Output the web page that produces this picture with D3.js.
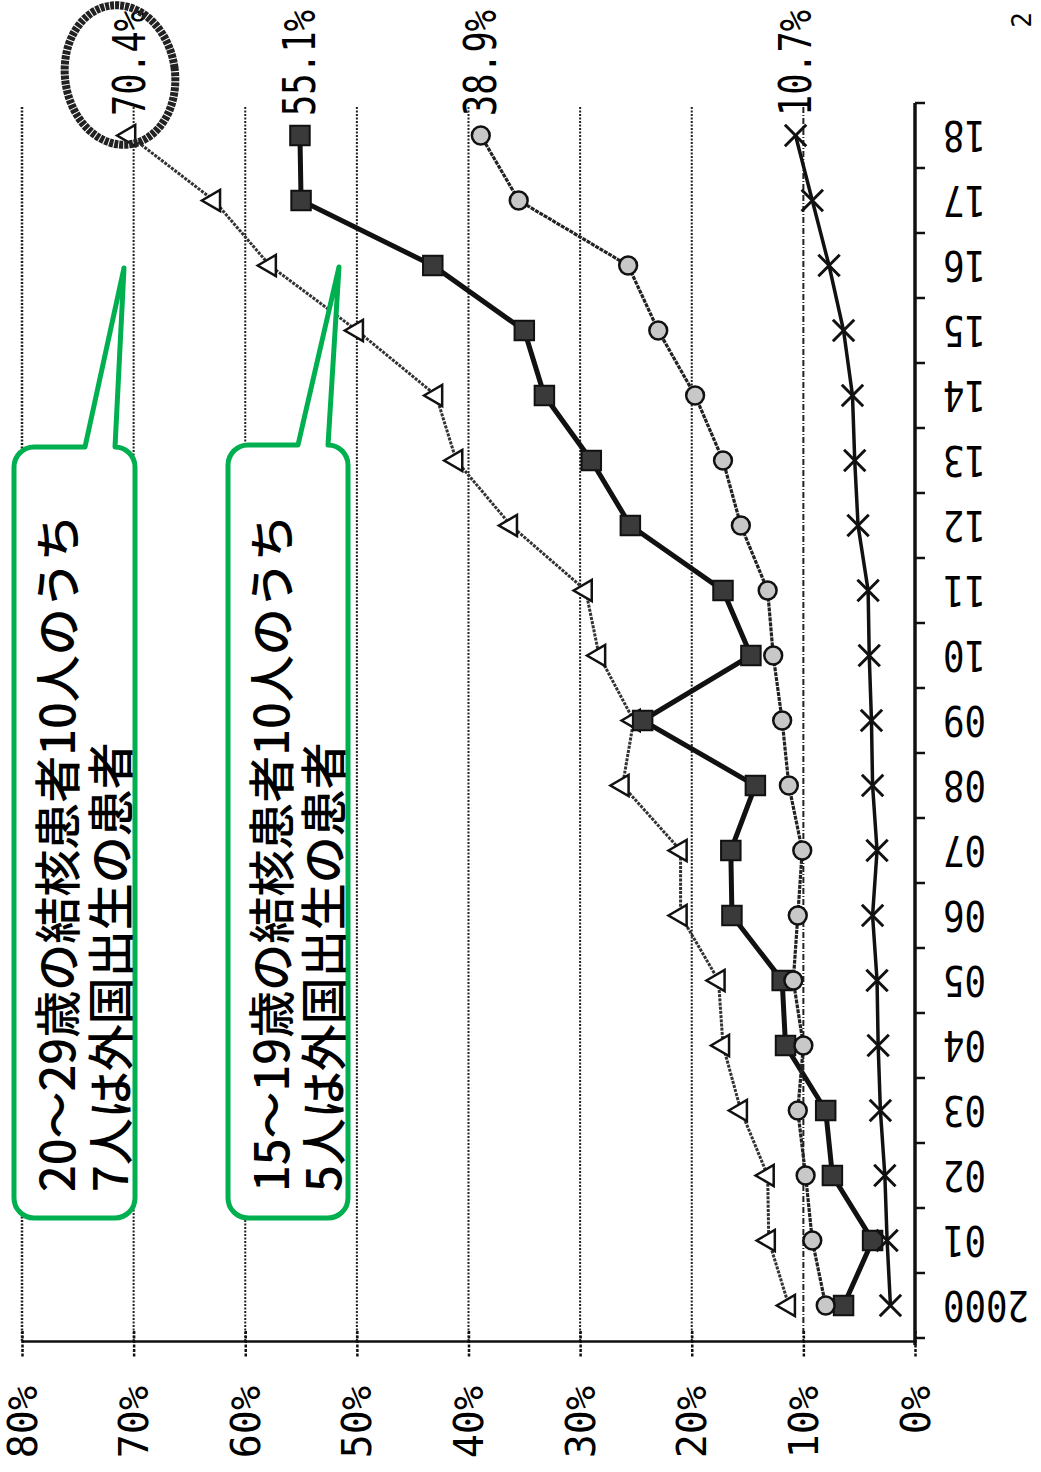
<!DOCTYPE html>
<html>
<head>
<meta charset="utf-8">
<script src="https://cdn.jsdelivr.net/npm/d3@7"></script>
<style>
  body { margin: 0; background: #fff; }
  svg { display: block; }
</style>
</head>
<body>
<div id="container"></div>
<script>
const W = 1041
const H = 1472

// data (share of foreign-born among TB patients, %)
const years = ["2000", "01", "02", "03", "04", "05", "06", "07", "08", "09",
    "10", "11", "12", "13", "14", "15", "16", "17", "18"]
const age20s = [11.3, 13.1, 13.2, 15.6, 17.2, 17.6, 21.0, 21.0, 26.2, 25.2,
    28.3, 29.5, 36.2, 41.1, 42.9, 50.0, 57.8, 62.8, 70.4]
const age15to19 = [6.4, 3.8, 7.4, 8.0, 11.6, 11.9, 16.4, 16.5, 14.3, 24.4,
    14.7, 17.2, 25.5, 29.0, 33.2, 35.0, 43.2, 55.0, 55.1]
const circleSeries = [8.0, 9.2, 9.8, 10.5, 10.0, 10.9, 10.5, 10.1, 11.3, 11.9,
    12.7, 13.2, 15.6, 17.2, 19.7, 23.0, 25.7, 35.5, 38.9]
const allAges = [2.2, 2.5, 2.7, 3.1, 3.3, 3.4, 3.8, 3.4, 3.8, 3.9,
    4.1, 4.2, 5.1, 5.4, 5.6, 6.4, 7.7, 9.2, 10.7]
const pctTicks = [0, 10, 20, 30, 40, 50, 60, 70, 80]
const callout1 = ["20～29歳の結核患者10人のうち", "7人は外国出生の患者"]
const callout2 = ["15～19歳の結核患者10人のうち", "5人は外国出生の患者"]

const svg = d3.select('#container').append('svg')
    .attr('width', W).attr('height', H)

// chart is printed rotated: percent runs right->left, years bottom->top
const x = d3.scaleLinear().domain([0, 80]).range([915, 22])
const y = d3.scaleBand().domain(years).range([1338, 103])
const yc = d => y(d) + y.bandwidth() / 2

const axisY = 1341
const mono = "DejaVu Sans Mono"

// gridlines
svg.append("g").selectAll("line")
    .data(pctTicks.filter(d => d > 0))
    .join("line")
    .attr("x1", d => x(d)).attr("x2", d => x(d))
    .attr("y1", 107).attr("y2", axisY)
    .attr("stroke", "#222")
    .attr("stroke-width", d => d == 80 ? 2.5 : 2)
    .attr("stroke-dasharray", d => d == 10 ? "6,2,1,2" : "2,1.5")

// percent axis
const xAxis = svg.append("g")
    .attr("transform", `translate(0,${axisY})`)
    .call(d3.axisBottom(x).tickValues(pctTicks).tickFormat(d => d + "%").tickSizeOuter(0))
xAxis.select(".domain").attr("stroke", "#111").attr("stroke-width", 2.5)
xAxis.selectAll(".tick line")
    .attr("y1", -10).attr("y2", 16)
    .attr("stroke", "#111").attr("stroke-width", 2.5)
    .attr("stroke-dasharray", "3,1.5")
xAxis.selectAll(".tick text")
    .attr("y", 0).attr("dy", null)
    .attr("transform", "translate(0,45) rotate(-90)")
    .attr("text-anchor", "end")
    .attr("dominant-baseline", "central")
    .attr("font-family", mono)
    .attr("font-size", 40)
    .attr("fill", "#000")

// year axis (right side)
const yAxis = svg.append("g")
    .attr("transform", "translate(915,0)")
    .call(d3.axisRight(y).tickSize(0).tickSizeOuter(0))
yAxis.select(".domain").remove()
yAxis.append("line")
    .attr("x1", 0).attr("x2", 0)
    .attr("y1", y.range()[1]).attr("y2", y.range()[0] + 7)
    .attr("stroke", "#111").attr("stroke-width", 3.5)
yAxis.selectAll(".bound")
    .data(years.map(d => y(d)).concat([y.range()[0]]))
    .join("line")
    .attr("class", "bound")
    .attr("x1", 0).attr("x2", 10)
    .attr("y1", d => d).attr("y2", d => d)
    .attr("stroke", "#111").attr("stroke-width", 2.5)
yAxis.selectAll(".tick text")
    .attr("x", 0).attr("dy", null)
    .attr("transform", "translate(28,0) rotate(180) scale(0.85,1)")
    .attr("text-anchor", "end")
    .attr("dominant-baseline", "central")
    .attr("font-family", mono)
    .attr("font-size", 42)
    .attr("fill", "#000")

// series
const series = [
    { name: "20-29", values: age20s, marker: "tri", width: 3, dash: "3,1.2", color: "#333" },
    { name: "15-19", values: age15to19, marker: "sq", width: 5, dash: null, color: "#111" },
    { name: "circle", values: circleSeries, marker: "circ", width: 3.2, dash: "4,1", color: "#222" },
    { name: "all", values: allAges, marker: "x", width: 3.5, dash: null, color: "#111" },
]

const line = d3.line()
    .x(d => x(d.v))
    .y(d => yc(d.year))

series.forEach(s => {
    const pts = s.values.map((v, i) => ({ year: years[i], v: v }))
    const g = svg.append("g")
    g.append("path")
        .attr("d", line(pts))
        .attr("fill", "none")
        .attr("stroke", s.color)
        .attr("stroke-width", s.width)
        .attr("stroke-dasharray", s.dash)

    const m = g.selectAll(".m").data(pts).join("path")
        .attr("class", "m")
        .attr("transform", d => `translate(${x(d.v)},${yc(d.year)})` + (s.marker == "tri" ? " rotate(-90)" : ""))
    if (s.marker == "tri") {
        m.attr("d", d3.symbol(d3.symbolTriangle, 190)())
            .attr("fill", "#fff").attr("stroke", "#111").attr("stroke-width", 2.5)
    } else if (s.marker == "sq") {
        m.attr("d", d3.symbol(d3.symbolSquare, 380)())
            .attr("fill", "#3a3a3a").attr("stroke", "#111").attr("stroke-width", 2)
    } else if (s.marker == "circ") {
        m.attr("d", d3.symbol(d3.symbolCircle, 250)())
            .attr("fill", "#c8c8c8").attr("stroke", "#111").attr("stroke-width", 2.5)
    } else {
        m.attr("d", d3.symbol(d3.symbolX, 300)())
            .attr("fill", "none").attr("stroke", "#111").attr("stroke-width", 3)
    }

    // end value label
    const last = s.values[s.values.length - 1]
    svg.append("text")
        .attr("transform", `translate(${x(last)},116) rotate(-90) scale(0.8,1)`)
        .attr("text-anchor", "start")
        .attr("dominant-baseline", "central")
        .attr("font-family", mono)
        .attr("font-size", 44)
        .attr("fill", "#000")
        .text(last.toFixed(1) + "%")
})

// hand drawn ring round 70.4%
svg.append("ellipse")
    .attr("cx", 120).attr("cy", 75)
    .attr("rx", 55).attr("ry", 70)
    .attr("transform", "rotate(-8,120,75)")
    .attr("fill", "none")
    .attr("stroke", "#222")
    .attr("stroke-width", 8)
    .attr("stroke-dasharray", "4,1")

// green callouts
const drawCallout = (left, right, top, bottom, baseL, baseR, tipX, tipY, lines, lineX) => {
    const r = 20
    const p = d3.path()
    p.moveTo(left + r, top)
    p.lineTo(baseL, top)
    p.lineTo(tipX, tipY)
    p.lineTo(baseR, top)
    p.arcTo(right, top, right, top + r, r)
    p.lineTo(right, bottom - r)
    p.arcTo(right, bottom, right - r, bottom, r)
    p.lineTo(left + r, bottom)
    p.arcTo(left, bottom, left, bottom - r, r)
    p.lineTo(left, top + r)
    p.arcTo(left, top, left + r, top, r)
    p.closePath()
    svg.append("path")
        .attr("d", p.toString())
        .attr("fill", "#fff")
        .attr("stroke", "#00b050")
        .attr("stroke-width", 5)
        .attr("stroke-linejoin", "round")
    lines.forEach((t, i) => {
        svg.append("text")
            .attr("transform", `translate(${lineX[i]},1192) rotate(-90)`)
            .attr("text-anchor", "start")
            .attr("dominant-baseline", "central")
            .attr("font-family", "Noto Sans CJK JP")
            .attr("font-weight", 500)
            .attr("font-size", 47)
            .attr("fill", "#000")
            .text(t)
    })
}

drawCallout(14, 135, 447, 1218, 85, 115, 124, 268, callout1, [54, 107])
drawCallout(228, 348, 445, 1218, 298, 328, 339, 267, callout2, [268, 320])

// scrap of a page number at top right
svg.append("text")
    .attr("transform", "translate(1022,20) rotate(-90)")
    .attr("text-anchor", "middle")
    .attr("dominant-baseline", "central")
    .attr("font-family", mono)
    .attr("font-size", 26)
    .text("2")
</script>
</body>
</html>
